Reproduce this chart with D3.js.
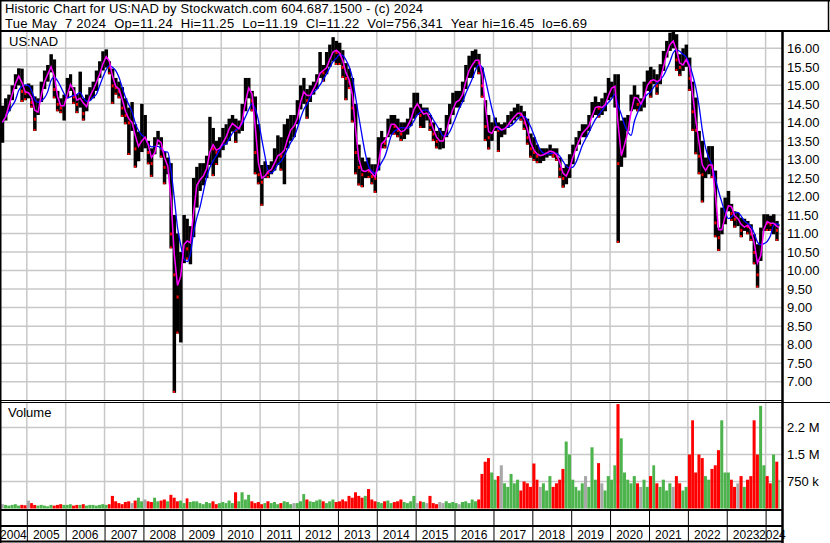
<!doctype html>
<html lang="en">
<head>
  <meta charset="utf-8">
  <title>Historic Chart for US:NAD</title>
  <style>
   body {
       margin: 0;
       background-color: #ffffff;
   }
   svg {
       display: block;
       font-family: "Liberation Sans", Arial, helvetica, sans-serif;
   }
   .grid {
       stroke: #c8c8c8;
       stroke-width: 1.5;
   }
   .frame {
       stroke: #000;
       fill: none;
   }
   .lbl {
       font-size: 13px;
       fill: #000;
   }
  </style>
</head>
<body>
<svg id="chart" width="830" height="543" xmlns="http://www.w3.org/2000/svg"></svg>
<script src="https://d3js.org/d3.v7.min.js"></script>
<script>

 // monthly bars, May 2004 .. May 2024 (last month partial, to May 7)
 var firstMonth = new Date(2004, 4, 1);
 var lastDay = new Date(2024, 4, 8);

 var highs = [
     14.45, 14.65, 14.75, 15.0, 15.3, 15.46, 15.45, 15.0,
     15.05, 15.0, 14.7, 14.65, 15.1, 15.4, 15.55, 15.84, 15.7, 14.85, 14.65, 14.75,
     15.2, 15.3, 14.95, 14.75, 15.37, 14.65, 14.75, 14.95, 15.1, 15.4, 15.65, 15.92,
     15.97, 15.65, 15.45, 15.2, 15.1, 14.95, 14.65, 14.4, 14.55, 13.95, 13.75, 14.5,
     14.2, 13.5, 13.3, 13.6, 13.77, 13.6, 13.2, 13.05, 12.9, 11.5, 11.0, 10.5,
     11.5, 11.4, 11.2, 12.5, 12.8, 12.9, 12.9, 13.1, 14.15, 13.85, 13.5, 13.6,
     13.85, 13.95, 14.1, 14.2, 14.1, 14.05, 14.5, 15.2, 15.2, 14.85, 14.7, 13.95,
     12.85, 12.95, 12.85, 12.95, 13.3, 13.65, 13.6, 13.95, 14.1, 14.2, 14.2, 14.6,
     15.0, 15.2, 14.9, 15.0, 15.1, 15.3, 15.9, 15.55, 15.9, 16.1, 16.3, 16.2,
     16.15, 15.95, 15.6, 15.45, 15.2, 14.5, 13.4, 13.05, 12.95, 13.05, 12.87, 12.87,
     13.6, 13.77, 13.6, 14.1, 14.2, 14.2, 14.1, 14.0, 14.0, 14.1, 14.4, 14.8,
     14.8, 14.5, 14.4, 14.4, 14.2, 14.0, 13.77, 13.85, 13.77, 14.2, 14.5, 14.8,
     14.85, 14.85, 15.1, 15.55, 15.8, 15.93, 15.97, 15.85, 15.48, 14.6, 14.2, 14.0,
     14.13, 14.0, 13.95, 14.0, 14.2, 14.3, 14.4, 14.5, 14.45, 14.3, 14.1, 13.7,
     13.6, 13.4, 13.3, 13.3, 13.3, 13.4, 13.3, 13.3, 13.05, 12.77, 12.87, 13.14,
     13.4, 13.6, 13.77, 13.95, 13.95, 14.2, 14.55, 14.7, 14.55, 14.65, 14.8, 15.2,
     15.1, 15.3, 15.3, 14.05, 14.13, 14.2, 14.75, 15.0, 14.75, 14.65, 15.1, 15.4,
     15.5, 15.43, 15.3, 15.57, 15.93, 16.2, 16.42, 16.45, 16.38, 15.84, 16.0, 16.1,
     15.75, 15.1, 14.67, 13.77, 13.5, 13.05, 13.36, 13.36, 12.7, 11.16, 11.7, 11.97,
     12.15, 11.8, 11.6, 11.56, 11.43, 11.4, 11.34, 11.25, 10.98, 10.71, 11.16, 11.52,
     11.52, 11.48, 11.52, 11.34, 11.25
 ];

 var lows = [
     13.45, 14.05, 14.3, 14.6, 14.9, 15.0, 14.55, 14.6,
     14.65, 14.4, 13.77, 14.2, 14.55, 14.9, 15.1, 15.35, 14.65, 14.3, 14.25, 14.05,
     14.65, 14.85, 14.5, 14.25, 14.4, 14.05, 14.3, 14.6, 14.65, 14.85, 15.2, 15.4,
     15.48, 15.3, 14.5, 14.75, 14.65, 14.15, 13.95, 13.12, 13.77, 12.78, 12.95, 13.2,
     13.3, 12.87, 12.53, 13.14, 13.4, 13.05, 12.33, 12.6, 10.6, 6.7, 8.3, 8.06,
     10.2, 10.3, 10.17, 10.9, 11.7, 12.15, 12.3, 12.5, 12.85, 12.55, 12.85, 13.05,
     13.25, 13.4, 13.5, 13.75, 13.45, 13.7, 13.77, 14.3, 14.65, 14.3, 12.6, 12.33,
     11.75, 12.5, 12.5, 12.6, 12.7, 12.85, 12.7, 12.33, 13.3, 13.5, 13.6, 13.95,
     14.35, 14.5, 14.1, 14.55, 14.75, 14.9, 15.2, 15.1, 15.3, 15.5, 15.65, 15.55,
     15.55, 15.2, 14.6, 14.9, 14.0, 12.6, 12.3, 12.25, 12.5, 12.5, 12.33, 12.1,
     12.7, 13.3, 13.3, 13.6, 13.67, 13.67, 13.6, 13.5, 13.55, 13.67, 13.9, 14.1,
     14.2, 13.85, 13.85, 14.05, 13.77, 13.5, 13.3, 13.27, 13.3, 13.6, 13.95, 14.2,
     14.4, 14.4, 14.55, 14.9, 15.2, 15.2, 15.48, 15.3, 14.67, 13.5, 13.27, 13.5,
     13.77, 13.2, 13.6, 13.67, 13.85, 13.95, 14.05, 14.13, 14.05, 13.8, 13.4, 13.05,
     12.96, 12.9, 12.9, 12.96, 13.05, 13.1, 13.05, 12.96, 12.5, 12.24, 12.33, 12.5,
     12.87, 13.23, 13.4, 13.6, 13.6, 13.77, 14.13, 14.2, 14.13, 14.2, 14.3, 14.6,
     14.67, 14.4, 10.75, 12.8, 13.05, 13.77, 14.3, 14.35, 14.3, 14.3, 14.4, 14.85,
     14.67, 15.03, 14.75, 15.03, 15.39, 15.75, 15.93, 16.0, 15.39, 15.25, 15.39, 15.5,
     14.85, 13.77, 13.14, 12.6, 11.84, 12.5, 12.6, 12.5, 10.9, 10.53, 10.98, 11.25,
     11.6, 11.34, 11.16, 11.2, 10.9, 11.07, 10.98, 10.8, 10.17, 9.54, 10.26, 11.07,
     11.07, 11.07, 10.98, 10.8, 11.19
 ];

 var closes = [
     14.0, 14.3, 14.6, 14.9, 15.2, 15.3, 14.85, 14.8,
     14.8, 14.55, 14.1, 14.45, 15.0, 15.2, 15.4, 15.6, 14.9, 14.5, 14.4, 14.5,
     15.0, 15.05, 14.7, 14.5, 14.8, 14.25, 14.6, 14.8, 14.95, 15.2, 15.4, 15.75,
     15.8, 15.5, 15.0, 14.95, 14.85, 14.4, 14.2, 14.0, 14.0, 13.3, 13.4, 13.6,
     13.6, 13.2, 12.9, 13.45, 13.6, 13.3, 12.8, 12.85, 11.0, 9.9, 9.3, 10.4,
     11.0, 10.6, 10.9, 12.2, 12.4, 12.5, 12.6, 12.9, 13.5, 13.3, 13.2, 13.4,
     13.5, 13.7, 13.95, 14.0, 13.8, 13.85, 14.2, 14.9, 14.95, 14.6, 13.2, 12.6,
     12.4, 12.7, 12.65, 12.8, 13.0, 13.2, 13.1, 13.4, 13.7, 13.9, 13.9, 14.3,
     14.8, 14.85, 14.6, 14.85, 14.95, 15.2, 15.45, 15.35, 15.6, 15.8, 16.0, 15.9,
     15.85, 15.5, 15.2, 15.1, 14.4, 13.2, 12.8, 12.6, 12.75, 12.7, 12.55, 12.5,
     13.3, 13.55, 13.45, 13.9, 14.0, 13.9, 13.8, 13.7, 13.85, 13.95, 14.2, 14.5,
     14.5, 14.2, 14.25, 14.25, 13.95, 13.7, 13.5, 13.5, 13.5, 14.0, 14.2, 14.5,
     14.6, 14.6, 14.9, 15.3, 15.5, 15.6, 15.75, 15.6, 15.0, 13.9, 13.6, 13.8,
     13.95, 13.8, 13.8, 13.85, 14.0, 14.1, 14.2, 14.3, 14.2, 14.0, 13.6, 13.3,
     13.2, 13.1, 13.1, 13.15, 13.2, 13.25, 13.15, 13.1, 12.75, 12.5, 12.6, 12.9,
     13.2, 13.4, 13.6, 13.8, 13.8, 14.0, 14.35, 14.45, 14.4, 14.4, 14.55, 14.9,
     14.95, 15.0, 12.9, 13.3, 13.5, 14.0, 14.55, 14.8, 14.5, 14.5, 14.85, 15.15,
     15.1, 15.2, 15.0, 15.3, 15.7, 16.0, 16.2, 16.2, 15.7, 15.5, 15.6, 15.8,
     15.2, 14.3, 13.8, 13.1, 12.6, 12.8, 12.9, 12.8, 11.3, 10.9, 11.3, 11.6,
     11.9, 11.55, 11.4, 11.4, 11.1, 11.25, 11.2, 11.0, 10.5, 9.9, 10.9, 11.35,
     11.3, 11.25, 11.3, 11.1, 11.22
 ];

 // volume in millions of shares
 var volumes = [
     0.12, 0.1, 0.08, 0.1, 0.12, 0.08, 0.1, 0.09,
     0.22, 0.15, 0.1, 0.08, 0.1, 0.08, 0.06, 0.1, 0.08, 0.1, 0.12, 0.1,
     0.1, 0.12, 0.08, 0.1, 0.1, 0.12, 0.08, 0.1, 0.1, 0.08, 0.1, 0.12,
     0.1, 0.12, 0.35, 0.2, 0.15, 0.12, 0.18, 0.2, 0.15, 0.22, 0.3, 0.2,
     0.25, 0.2, 0.18, 0.3, 0.2, 0.22, 0.25, 0.2, 0.38, 0.3, 0.2, 0.22,
     0.15, 0.28, 0.18, 0.2, 0.2, 0.15, 0.12, 0.18, 0.15, 0.2, 0.12, 0.15,
     0.18, 0.15, 0.22, 0.15, 0.45, 0.2, 0.45, 0.25, 0.38, 0.2, 0.15, 0.18,
     0.12, 0.15, 0.2, 0.15, 0.18, 0.12, 0.15, 0.2, 0.18, 0.12, 0.15, 0.15,
     0.2, 0.4, 0.25, 0.2, 0.18, 0.22, 0.25, 0.2, 0.15, 0.2, 0.25, 0.18,
     0.2, 0.25, 0.2, 0.35, 0.3, 0.45, 0.35, 0.3, 0.35, 0.54, 0.25, 0.2,
     0.18, 0.15, 0.2, 0.22, 0.15, 0.18, 0.2, 0.25, 0.18, 0.15, 0.2, 0.35,
     0.15, 0.2, 0.18, 0.15, 0.35, 0.15, 0.12, 0.18, 0.15, 0.2, 0.15, 0.18,
     0.15, 0.12, 0.18, 0.2, 0.15, 0.25, 0.2, 0.25, 0.96, 1.3, 1.4, 1.0,
     0.8, 0.9, 1.2, 0.7, 0.6, 0.96, 0.7, 0.8, 0.5, 0.75, 0.7, 0.6,
     1.25, 0.8, 0.6, 0.7, 0.5, 0.9, 0.6, 0.7, 0.8, 1.1, 1.86, 1.5,
     0.8, 0.6, 0.5, 0.7, 0.9, 0.6, 1.7, 0.8, 1.26, 0.7, 0.5, 0.9,
     0.8, 1.2, 2.9, 1.95, 1.0, 0.8, 0.7, 0.9, 0.7, 0.6, 0.8, 0.6,
     0.9, 1.2, 0.7, 0.6, 0.8, 0.5, 0.7, 0.6, 0.9, 0.7, 0.5, 0.6,
     1.5, 2.45, 1.0, 1.5, 1.4, 0.9, 0.8, 1.1, 1.2, 1.62, 2.45, 1.0,
     1.0, 0.8, 0.6, 0.7, 0.9, 0.6, 0.8, 0.9, 2.45, 1.5, 2.85, 1.2,
     0.9, 0.7, 1.5, 1.3, 0.8
 ];

 var priceTicks = [7, 7.5, 8, 8.5, 9, 9.5, 10, 10.5, 11, 11.5, 12, 12.5, 13, 13.5, 14, 14.5, 15, 15.5, 16];
 var volTicks = [0.75, 1.5, 2.25];
 var volTickLabels = ["750 k", "1.5 M", "2.2 M"];
 var years = d3.range(2004, 2025);

 var titleLine1 = "Historic Chart for US:NAD by Stockwatch.com 604.687.1500 - (c) 2024";
 var titleLine2 = "Tue May  7 2024  Op=11.24  Hi=11.25  Lo=11.19  Cl=11.22  Vol=756,341  Year hi=16.45  lo=6.69";

 var months = d3.timeMonth.range(firstMonth, new Date(2024, 5, 1));
 var bars = months.map(function(m, i) {
     var end = d3.timeMonth.offset(m, 1);
     if (end > lastDay) end = lastDay;
     return {start: m, end: end, high: highs[i], low: lows[i], close: closes[i],
             vol: volumes[i], prev: i > 0 ? closes[i-1] : closes[i]};
 });

 // moving averages of the monthly closes (short ~ magenta, long ~ blue)
 bars.forEach(function(b, i) {
     b.fast = (b.prev + b.close) / 2;
     b.slow = d3.mean(closes.slice(Math.max(0, i - 4), i + 1));
 });

 var svg = d3.select("#chart");

 var x = d3.scaleTime()
           .domain([new Date(2004, 3, 24), new Date(2024, 5, 3)])
           .range([0, 782]);
 var y = d3.scaleLinear().domain([7, 16]).range([381.7, 48.3]);
 var yv = d3.scaleLinear().domain([0, 3]).range([508.5, 400.5]);

 var defs = svg.append("defs");
 defs.append("clipPath").attr("id", "clipPrice")
     .append("rect").attr("x", 1).attr("y", 32).attr("width", 780).attr("height", 368);
 defs.append("clipPath").attr("id", "clipVol")
     .append("rect").attr("x", 1).attr("y", 403).attr("width", 780).attr("height", 106);

 // grid
 var grid = svg.append("g");
 grid.selectAll("line.hp").data(priceTicks).enter().append("line")
     .attr("class", "grid")
     .attr("x1", 0).attr("x2", 782)
     .attr("y1", function(d) { return y(d); }).attr("y2", function(d) { return y(d); });
 grid.selectAll("line.hv").data(volTicks).enter().append("line")
     .attr("class", "grid")
     .attr("x1", 0).attr("x2", 782)
     .attr("y1", function(d) { return yv(d); }).attr("y2", function(d) { return yv(d); });
 var yearLines = years.slice(1);
 grid.selectAll("line.vp").data(yearLines).enter().append("line")
     .attr("class", "grid")
     .attr("x1", function(d) { return x(new Date(d, 0, 1)); })
     .attr("x2", function(d) { return x(new Date(d, 0, 1)); })
     .attr("y1", 32).attr("y2", 400);
 grid.selectAll("line.vv").data(yearLines).enter().append("line")
     .attr("class", "grid")
     .attr("x1", function(d) { return x(new Date(d, 0, 1)); })
     .attr("x2", function(d) { return x(new Date(d, 0, 1)); })
     .attr("y1", 403).attr("y2", 509);

 // price bars
 var price = svg.append("g").attr("clip-path", "url(#clipPrice)");
 price.selectAll("rect.bar").data(bars).enter().append("rect")
      .attr("x", function(d) { return x(d.start); })
      .attr("width", function(d) { return Math.max(1, x(d.end) - x(d.start) + 0.2); })
      .attr("y", function(d) { return y(d.high); })
      .attr("height", function(d) { return y(d.low) - y(d.high); })
      .attr("fill", "#000");

 // red marks on down closes
 var downs = bars.filter(function(d) { return d.close < d.prev; });
 price.selectAll("rect.dn").data(downs).enter().append("rect")
      .attr("x", function(d) { return x(d.end) - 2.5; })
      .attr("y", function(d) { return y(d.close) - 1; })
      .attr("width", 2).attr("height", 3)
      .attr("fill", "#ff0000");
 price.selectAll("rect.lo").data(downs).enter().append("rect")
      .attr("x", function(d) { return x(d.start) + 0.5; })
      .attr("y", function(d) { return y(d.low) - 2; })
      .attr("width", 2).attr("height", 2)
      .attr("fill", "#ff0000");

 var mid = function(d) { return x(d.start) + (x(d.end) - x(d.start)) / 2; };

 price.append("path")
      .datum(bars)
      .attr("fill", "none")
      .attr("stroke", "#0000ff")
      .attr("stroke-width", 1.3)
      .attr("d", d3.line().curve(d3.curveMonotoneX).x(mid).y(function(d) { return y(d.slow); }));
 price.append("path")
      .datum(bars)
      .attr("fill", "none")
      .attr("stroke", "#ff00ff")
      .attr("stroke-width", 1.5)
      .attr("d", d3.line().x(mid).y(function(d) { return y(d.fast); }));

 // volume bars
 var vol = svg.append("g").attr("clip-path", "url(#clipVol)");
 vol.selectAll("rect").data(bars).enter().append("rect")
    .attr("x", function(d) { return x(d.start); })
    .attr("width", function(d) { return Math.max(1, x(d.end) - x(d.start) - 0.2); })
    .attr("y", function(d) { return yv(d.vol); })
    .attr("height", function(d) { return yv(0) - yv(d.vol); })
    .attr("fill", function(d) {
        if (d.close < d.prev) return "#ff0000";
        if (d.close > d.prev) return "#4db34d";
        return "#a8a8a8";
    });

 // labels inside panels
 svg.append("text").attr("class", "lbl").attr("x", 9).attr("y", 46).text("US:NAD");
 svg.append("text").attr("class", "lbl").attr("x", 8).attr("y", 417).text("Volume");

 // right axis labels
 svg.append("g").selectAll("text").data(priceTicks).enter().append("text")
    .attr("class", "lbl")
    .attr("x", 787)
    .attr("y", function(d) { return y(d); })
    .attr("dy", "0.36em")
    .text(d3.format(".2f"));
 svg.append("g").selectAll("text").data(volTicks).enter().append("text")
    .attr("class", "lbl")
    .attr("x", 787)
    .attr("y", function(d) { return yv(d); })
    .attr("dy", "0.36em")
    .text(function(d, i) { return volTickLabels[i]; });

 // year axis
 var xEnd = x(lastDay);
 var yearAxis = svg.append("g");
 yearAxis.selectAll("line").data(yearLines).enter().append("line")
    .attr("x1", function(d) { return x(new Date(d, 0, 1)) + 0.5; })
    .attr("x2", function(d) { return x(new Date(d, 0, 1)) + 0.5; })
    .attr("y1", 510).attr("y2", 541)
    .attr("stroke", "#000");
 yearAxis.selectAll("text").data(years).enter().append("text")
    .attr("x", function(d) {
        var a = Math.max(0, x(new Date(d, 0, 1)));
        var b = Math.min(xEnd, x(new Date(d + 1, 0, 1)));
        return (a + b) / 2;
    })
    .attr("y", 538.5)
    .attr("text-anchor", "middle")
    .attr("font-size", "12px")
    .text(function(d) { return d; });

 // frame lines
 var frame = svg.append("g").attr("class", "frame");
 frame.append("line").attr("x1", 0).attr("x2", 830).attr("y1", 0.5).attr("y2", 0.5).attr("stroke-width", 2);
 frame.append("line").attr("x1", 0.5).attr("x2", 0.5).attr("y1", 0).attr("y2", 543).attr("stroke-width", 2);
 frame.append("line").attr("x1", 828.5).attr("x2", 828.5).attr("y1", 0).attr("y2", 31).attr("stroke-width", 1.5);
 frame.append("line").attr("x1", 0).attr("x2", 830).attr("y1", 31).attr("y2", 31).attr("stroke-width", 2);
 frame.append("line").attr("x1", 0).attr("x2", 782).attr("y1", 400.5).attr("y2", 400.5);
 frame.append("line").attr("x1", 0).attr("x2", 830).attr("y1", 402.5).attr("y2", 402.5);
 frame.append("line").attr("x1", 0).attr("x2", 782).attr("y1", 510).attr("y2", 510).attr("stroke-width", 2);
 frame.append("line").attr("x1", 0).attr("x2", 782).attr("y1", 526).attr("y2", 526).attr("stroke-width", 2);
 frame.append("line").attr("x1", 0).attr("x2", 782).attr("y1", 541.5).attr("y2", 541.5).attr("stroke-width", 2);
 frame.append("line").attr("x1", 782.5).attr("x2", 782.5).attr("y1", 31).attr("y2", 543).attr("stroke-width", 2.5);

 // title, two lines
 svg.append("text").attr("x", 5).attr("y", 13)
    .attr("font-size", "13px")
    .attr("textLength", 418).attr("lengthAdjust", "spacing")
    .text(titleLine1);
 svg.append("text").attr("x", 5).attr("y", 27.5)
    .attr("font-size", "13px")
    .attr("textLength", 582).attr("lengthAdjust", "spacing")
    .style("white-space", "pre")
    .text(titleLine2);
</script>
</body>
</html>
